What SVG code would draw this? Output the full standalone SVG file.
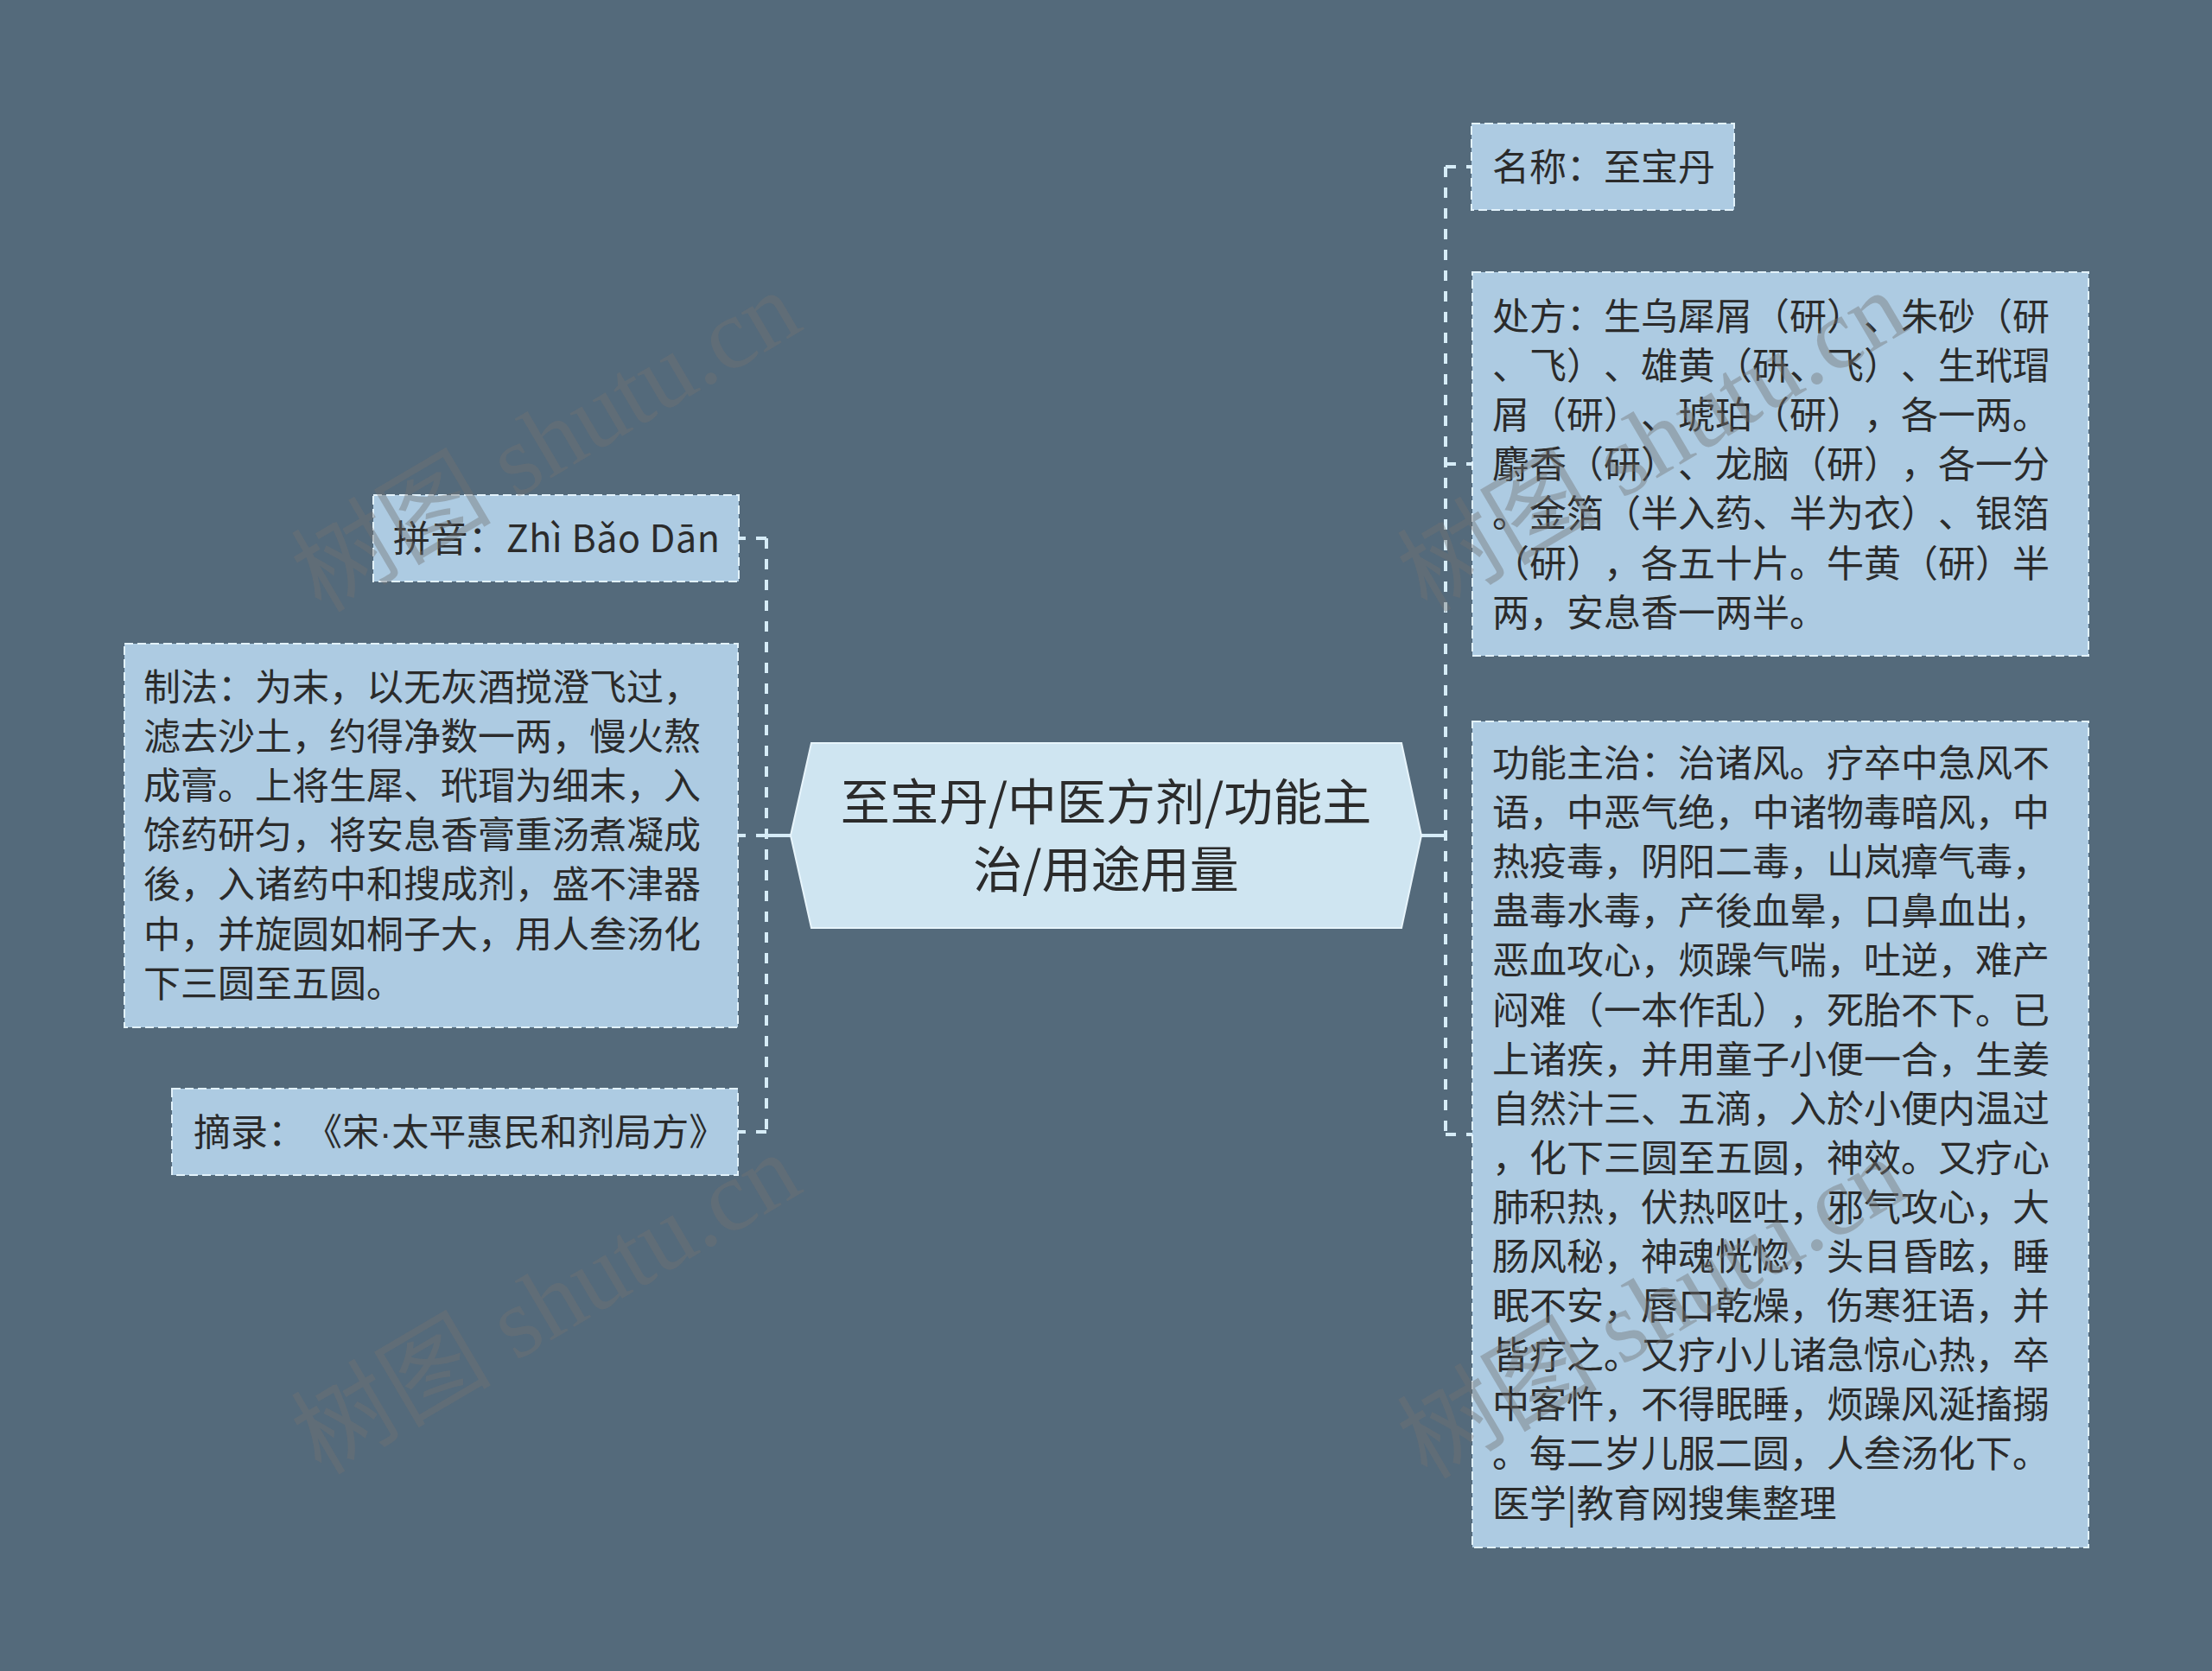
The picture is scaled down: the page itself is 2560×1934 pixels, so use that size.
<svg xmlns="http://www.w3.org/2000/svg" width="2560" height="1934" viewBox="0 0 2560 1934">
<style>
.bg{fill:#546a7b}
.node{fill:#adcbe2;stroke:#e2f2fb;stroke-width:2;stroke-dasharray:10 5}
.center{fill:#cfe5f1;stroke:#e8f5fc;stroke-width:2}
text{text-spacing-trim:space-all;font-kerning:none}
.t{font-family:"Noto Sans CJK SC","Noto Sans",sans-serif;font-size:43px;fill:#2b2b2b}
.ct{font-family:"Noto Sans CJK SC","Noto Sans",sans-serif;font-size:57px;fill:#2b2b2b;text-anchor:middle}
.dot{font-family:"Liberation Sans",sans-serif}
.dash{fill:none;stroke:#d6ecf7;stroke-width:4;stroke-dasharray:12 12}
.solid{fill:none;stroke:#d6ecf7;stroke-width:4}
.wm{font-family:"Liberation Serif","Noto Sans CJK SC",serif;font-size:116px;fill:#737373;fill-opacity:0.42}
</style>
<rect class="bg" x="0" y="0" width="2560" height="1934"/>
<g id="connectors">
<path class="solid" d="M915 967H887M1645 967H1673"/>
<path class="dash" d="M887 623V1310"/>
<path class="dash" d="M887 623H855"/>
<path class="dash" d="M887 967H854"/>
<path class="dash" d="M887 1310H854"/>
<path class="dash" d="M1673 193V1313"/>
<path class="dash" d="M1673 193H1703"/>
<path class="dash" d="M1673 537H1704"/>
<path class="dash" d="M1673 1313H1704"/>
</g>
<g id="center-node">
<polygon class="center" points="915,967 939,860 1622,860 1645,967 1622,1074 939,1074"/>
<text class="ct" x="1280" y="949">至宝丹/中医方剂/功能主</text>
<text class="ct" x="1280" y="1027">治/用途用量</text>
</g>
<g id="node-pinyin">
<rect class="node" x="432" y="573" width="423" height="100"/>
<text class="t" x="455" y="639" textLength="378" lengthAdjust="spacing">拼音：Zhì Bǎo Dān</text>
</g>
<g id="node-zhifa">
<rect class="node" x="144" y="745" width="710" height="444"/>
<text class="t" x="166" y="811">制法：为末，以无灰酒搅澄飞过，</text>
<text class="t" x="166" y="868">滤去沙土，约得净数一两，慢火熬</text>
<text class="t" x="166" y="925">成膏。上将生犀、玳瑁为细末，入</text>
<text class="t" x="166" y="982">馀药研匀，将安息香膏重汤煮凝成</text>
<text class="t" x="166" y="1039">後，入诸药中和搜成剂，盛不津器</text>
<text class="t" x="166" y="1097">中，并旋圆如桐子大，用人叁汤化</text>
<text class="t" x="166" y="1154">下三圆至五圆。</text>
</g>
<g id="node-zhailu">
<rect class="node" x="199" y="1260" width="655" height="100"/>
<text class="t" x="224" y="1326">摘录：《宋<tspan class="dot">·</tspan>太平惠民和剂局方》</text>
</g>
<g id="node-mingcheng">
<rect class="node" x="1703" y="143" width="304" height="100"/>
<text class="t" x="1727" y="209">名称：至宝丹</text>
</g>
<g id="node-chufang">
<rect class="node" x="1704" y="315" width="713" height="444"/>
<text class="t" x="1727" y="382">处方：生乌犀屑（研）、朱砂（研</text>
<text class="t" x="1727" y="439">、飞）、雄黄（研、飞）、生玳瑁</text>
<text class="t" x="1727" y="496">屑（研）、琥珀（研），各一两。</text>
<text class="t" x="1727" y="553">麝香（研）、龙脑（研），各一分</text>
<text class="t" x="1727" y="610">。金箔（半入药、半为衣）、银箔</text>
<text class="t" x="1727" y="668">（研），各五十片。牛黄（研）半</text>
<text class="t" x="1727" y="725">两，安息香一两半。</text>
</g>
<g id="node-gongneng">
<rect class="node" x="1704" y="835" width="713" height="956"/>
<text class="t" x="1727" y="899">功能主治：治诸风。疗卒中急风不</text>
<text class="t" x="1727" y="956">语，中恶气绝，中诸物毒暗风，中</text>
<text class="t" x="1727" y="1013">热疫毒，阴阳二毒，山岚瘴气毒，</text>
<text class="t" x="1727" y="1070">蛊毒水毒，产後血晕，口鼻血出，</text>
<text class="t" x="1727" y="1127">恶血攻心，烦躁气喘，吐逆，难产</text>
<text class="t" x="1727" y="1185">闷难（一本作乱），死胎不下。已</text>
<text class="t" x="1727" y="1242">上诸疾，并用童子小便一合，生姜</text>
<text class="t" x="1727" y="1299">自然汁三、五滴，入於小便内温过</text>
<text class="t" x="1727" y="1356">，化下三圆至五圆，神效。又疗心</text>
<text class="t" x="1727" y="1413">肺积热，伏热呕吐，邪气攻心，大</text>
<text class="t" x="1727" y="1470">肠风秘，神魂恍惚，头目昏眩，睡</text>
<text class="t" x="1727" y="1527">眠不安，唇口乾燥，伤寒狂语，并</text>
<text class="t" x="1727" y="1584">皆疗之。又疗小儿诸急惊心热，卒</text>
<text class="t" x="1727" y="1641">中客忤，不得眠睡，烦躁风涎搐搦</text>
<text class="t" x="1727" y="1698">。每二岁儿服二圆，人叁汤化下。</text>
<text class="t" x="1727" y="1756">医学|教育网搜集整理</text>
</g>
<g id="watermarks">
<text class="wm" text-anchor="middle" transform="translate(652,545) rotate(-30.5)">树图 shutu.cn</text>
<text class="wm" text-anchor="middle" transform="translate(652,1543) rotate(-30.5)">树图 shutu.cn</text>
<text class="wm" text-anchor="middle" transform="translate(1932,545) rotate(-30.5)">树图 shutu.cn</text>
<text class="wm" text-anchor="middle" transform="translate(1932,1548) rotate(-30.5)">树图 shutu.cn</text>
</g>
</svg>
